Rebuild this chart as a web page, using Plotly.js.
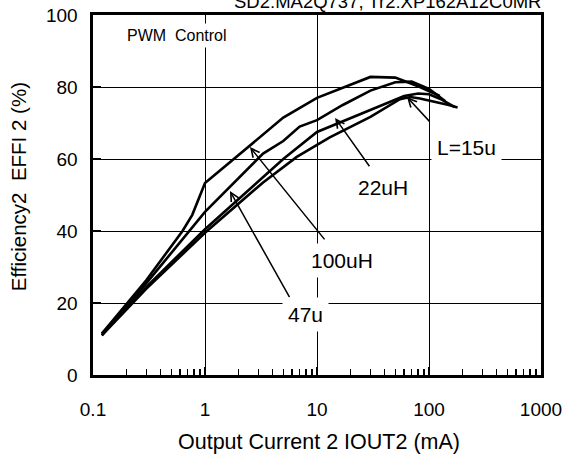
<!DOCTYPE html>
<html><head><meta charset="utf-8">
<script src="https://cdn.plot.ly/plotly-3.0.1.min.js"></script>
<style>body{margin:0;background:#fff}</style>
</head><body>
<div id="chart" style="width:566px;height:460px"></div>
<script>
// ---- data ----
const cur100 = [0.12, 0.3, 0.63, 0.77, 1, 5, 10, 30, 50, 83, 125];
const eff100 = [11.5, 26.4, 40, 44.5, 53.3, 71.5, 77, 82.8, 82.6, 80, 77.5];

const cur47 = [0.12, 0.3, 1, 3.3, 5, 7, 10, 17, 30, 50, 70, 100, 140];
const eff47 = [11, 25.5, 45.3, 61.5, 65, 69, 70.8, 75, 79, 81.3, 81.5, 79.5, 76];

const cur22 = [0.12, 0.3, 1, 3, 5, 10, 20, 30, 60, 80, 100, 130, 170];
const eff22 = [11.5, 24.5, 40.5, 53.8, 60, 67.5, 71.4, 73.6, 77.5, 78.2, 78, 76.5, 74.4];

const cur15 = [0.12, 0.3, 1, 3.3, 6.6, 13, 30, 55, 68, 83, 150, 180];
const eff15 = [11, 24, 39.5, 53.5, 60.6, 66, 71.7, 76.6, 77.2, 76.8, 75, 74.3];

const xTickVals = [0.1, 1, 10, 100, 1000];
const xTickText = ['0.1', '1', '10', '100', '1000'];
const yTickVals = [0, 20, 40, 60, 80, 100];
const yTickText = ['0', '20', '40', '60', '80', '100'];

const labelText = ['100uH', '47u', '22uH', 'L=15u'];
const labelX = [16.7, 7.82, 38.8, 218];
const labelY = [31.9, 16.9, 52.2, 63.3];
const headX = [2.52, 1.67, 14.5, 63.6];
const headY = [63.3, 51.1, 71.4, 77.2];
const tailX = [11.8, 5.74, 29.7, 102];
const tailY = [37.5, 21.4, 57.8, 70.3];

const titleText = 'SD2:MA2Q737, Tr2:XP162A12C0MR';
const noteText = 'PWM\u00a0 Control';
const xTitle = 'Output Current 2 IOUT2 (mA)';
const yTitle = 'Efficiency2\u00a0 EFFI 2 (%)';

// ---- build ----
const FONT = '"Liberation Sans", Arial, Helvetica, sans-serif';
const minorVals = [];
for (let e = -1; e < 3; e++) for (let d = 2; d <= 9; d++) minorVals.push(d * Math.pow(10, e));

const series = [[cur100, eff100], [cur47, eff47], [cur22, eff22], [cur15, eff15]];
const traces = series.map(s => ({
  x: s[0], y: s[1], type: 'scatter', mode: 'lines',
  line: {color: '#000', width: 2.6}, hoverinfo: 'skip'
}));

const annotations = [];
labelText.forEach((t, i) => {
  annotations.push({
    x: Math.log10(headX[i]), y: headY[i], xref: 'x', yref: 'y',
    ax: Math.log10(tailX[i]), ay: tailY[i], axref: 'x', ayref: 'y',
    text: ' ', font: {size: 1}, borderpad: 0, showarrow: true,
    arrowhead: 5, arrowsize: 1.1, arrowwidth: 1.5, arrowcolor: '#000'
  });
  annotations.push({
    x: Math.log10(labelX[i]), y: labelY[i], xref: 'x', yref: 'y',
    text: t, showarrow: false, bgcolor: '#fff', borderpad: 5,
    font: {size: 21, family: FONT, color: '#000'}
  });
});
annotations.push({
  x: 1.0045, y: 1.003, xref: 'paper', yref: 'paper', xanchor: 'right', yanchor: 'bottom',
  text: titleText, showarrow: false, font: {size: 18.5, family: FONT, color: '#000'}
});
annotations.push({
  x: 0.067, y: 0.944, xref: 'paper', yref: 'paper', xanchor: 'left', yanchor: 'middle',
  text: noteText, showarrow: false, bgcolor: '#fff', borderpad: 3,
  font: {size: 16, family: FONT, color: '#000'}
});
annotations.push({
  x: 0.505, y: -0.186, xref: 'paper', yref: 'paper', xanchor: 'center', yanchor: 'middle',
  text: xTitle, showarrow: false, font: {size: 21.5, family: FONT, color: '#000'}
});
annotations.push({
  x: -0.167, y: 0.522, xref: 'paper', yref: 'paper', xanchor: 'center', yanchor: 'middle',
  text: yTitle, textangle: -90, showarrow: false, font: {size: 20.5, family: FONT, color: '#000'}
});

const layout = {
  width: 566, height: 460,
  margin: {l: 93, r: 25, t: 15, b: 85, pad: 0},
  paper_bgcolor: '#fff', plot_bgcolor: '#fff', showlegend: false,
  font: {family: FONT, color: '#000', size: 19},
  xaxis: {
    type: 'log', range: [-1, 3], tickmode: 'array', tickvals: xTickVals, ticktext: xTickText,
    ticks: 'inside', ticklen: 8, tickwidth: 1.5, tickcolor: '#000',
    showgrid: true, gridcolor: '#000', gridwidth: 1,
    showline: true, linewidth: 2.6, linecolor: '#000', mirror: true, zeroline: false,
    ticklabelstandoff: 16, tickfont: {size: 19, family: FONT, color: '#000'},
    minor: {tickmode: 'array', tickvals: minorVals, ticks: 'inside', ticklen: 6, tickwidth: 1.5, tickcolor: '#000', showgrid: false},
    fixedrange: true
  },
  yaxis: {
    range: [0, 100], tickmode: 'array', tickvals: yTickVals, ticktext: yTickText,
    ticks: 'inside', ticklen: 8, tickwidth: 2, tickcolor: '#000',
    showgrid: true, gridcolor: '#000', gridwidth: 1,
    showline: true, linewidth: 2.6, linecolor: '#000', mirror: true, zeroline: false,
    ticklabelstandoff: 9, tickfont: {size: 19, family: FONT, color: '#000'},
    fixedrange: true
  },
  annotations: annotations
};

Plotly.newPlot('chart', traces, layout, {staticPlot: true, displayModeBar: false});
</script>
</body></html>
